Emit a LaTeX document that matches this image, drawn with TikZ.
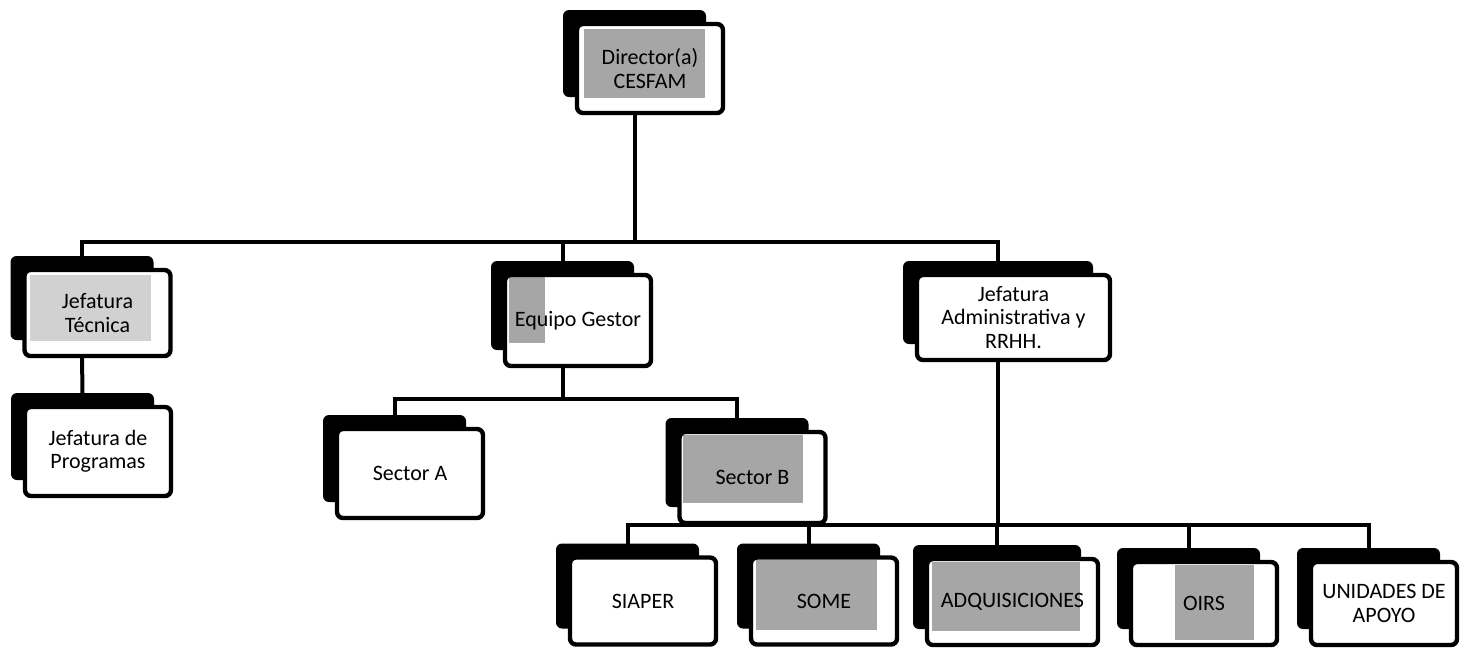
\documentclass[tikz,border=0pt]{standalone}
\usepackage{fontspec}
\setmainfont{Carlito}
\usetikzlibrary{backgrounds}

\begin{document}
\begin{tikzpicture}[x=0.5pt, y=-0.5pt,
  unit/.style={draw, line width=2.2pt, fill=white, rounded corners=3pt, align=center, outer sep=0pt,
    font=\fontsize{11}{11.7}\selectfont, minimum width=73pt, minimum height=44.5pt, inner sep=1pt},
  dots/.style n args={5}{path picture={\fill[#5, sharp corners] ([shift={(#1,-#2)}]path picture bounding box.north west) rectangle ([shift={(-#3,#4)}]path picture bounding box.south east);}},
  link/.style={line width=2pt}]
\useasboundingbox (0,0) rectangle (1467,650);

% top level
\node[unit, dots={3.5pt}{2.5pt}{9pt}{7.5pt}{black!35}] (dir) at (650,68.5) {Director(a)\\CESFAM};

% second level
\node[unit, minimum height=43pt, dots={2.5pt}{2.5pt}{10pt}{7.5pt}{black!18}] (jtec) at (97.5,313) {Jefatura\\Técnica};
\node[unit, minimum height=45.5pt, dots={2pt}{0pt}{53pt}{11.5pt}{black!35}] (egest) at (578,320.5) {Equipo Gestor};
\node[unit, minimum width=96.5pt, minimum height=42.5pt] (jadm) at (1013.5,317.5) {Jefatura\\Administrativa y\\RRHH.};

% third level
\node[unit] (jprog) at (98,451.5) {Jefatura de\\Programas};
\node[unit] (seca) at (410,473.5) {Sector A};
\node[unit, minimum height=45.5pt, dots={1.5pt}{1.5pt}{11.5pt}{10pt}{black!35}] (secb) at (752.5,477.5) {Sector B};

% bottom row
\node[unit, minimum height=43.5pt] (siaper) at (643,601) {SIAPER};
\node[unit, minimum height=43.5pt, dots={2.5pt}{1pt}{10pt}{7.5pt}{black!35}] (some) at (824,601) {SOME};
\node[unit, minimum width=85.5pt, minimum height=43pt, dots={2.5pt}{1.5pt}{9pt}{7pt}{black!35}] (adq) at (1012.5,602) {ADQUISICIONES};
\node[unit, minimum height=41.5pt, dots={22pt}{1.5pt}{11.5pt}{2.5pt}{black!35}] (oirs) at (1204,603.5) {OIRS};
\node[unit, minimum height=41.5pt] (unid) at (1384,603.5) {UNIDADES DE\\APOYO};

% back boxes
\begin{scope}[on background layer]
\foreach \n in {dir, jtec, egest, jadm, jprog, seca, secb, siaper, some, adq, oirs, unid} {
  \fill[rounded corners=3pt] ([shift={(-7pt,7pt)}]\n.north west) rectangle ([shift={(-8.5pt,8pt)}]\n.south east);
  \coordinate (\n-up) at ([shift={(-7.75pt,7pt)}]\n.north);
  \coordinate (\n-dn) at ([xshift=-7.75pt]\n.south);
}
\end{scope}

% connectors
\coordinate (bus1) at (dir-dn |- 0,242);
\coordinate (bus2) at (egest-dn |- 0,399);
\coordinate (bus3) at (jadm-dn |- 0,525);

\draw[link] (dir-dn) -- (bus1);
\draw[link] (bus1) -| (jtec-up);
\draw[link] (bus1) -| (egest-up);
\draw[link] (bus1) -| (jadm-up);

\draw[link] (jtec-dn) -- (jprog-up);

\draw[link] (egest-dn) -- (bus2);
\draw[link] (bus2) -| (seca-up);
\draw[link] (bus2) -| (secb-up);

\draw[link] (jadm-dn) -- (bus3);
\draw[link] (bus3) -| (siaper-up);
\draw[link] (bus3) -| (some-up);
\draw[link] (bus3) -| (adq-up);
\draw[link] (bus3) -| (oirs-up);
\draw[link] (bus3) -| (unid-up);
\end{tikzpicture}
\end{document}
